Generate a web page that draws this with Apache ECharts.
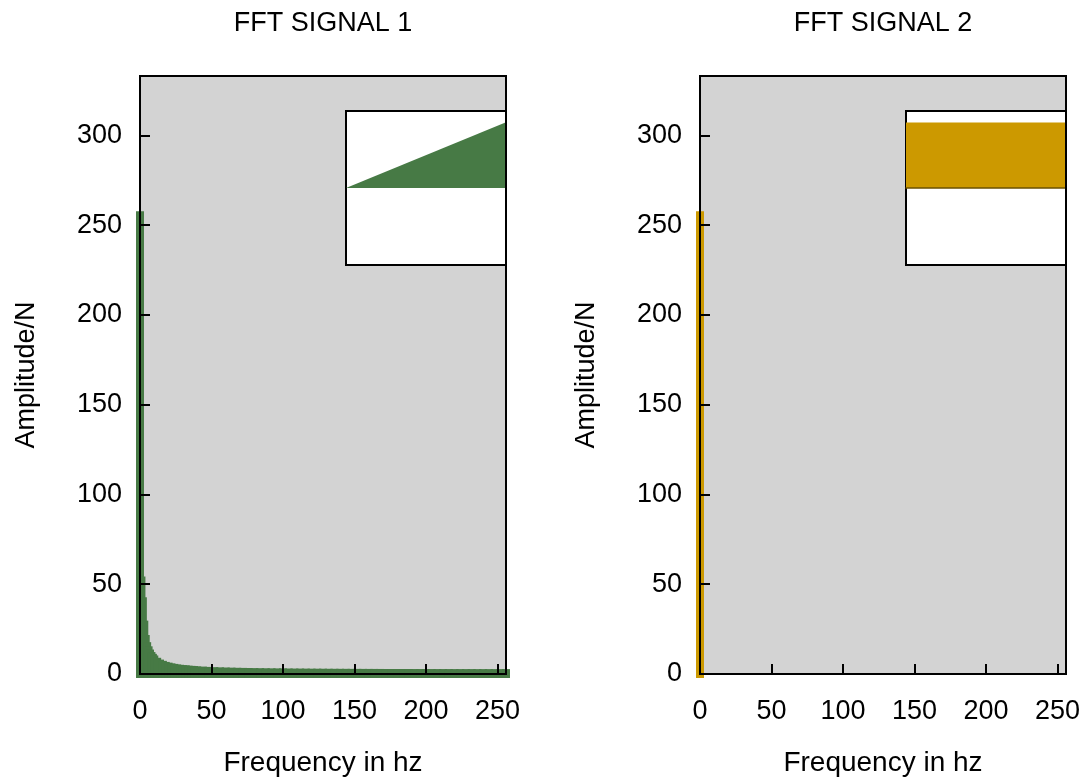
<!DOCTYPE html>
<html>
<head>
<meta charset="utf-8">
<script src="https://cdn.jsdelivr.net/npm/echarts@6/dist/echarts.min.js"></script>
<style>
html,body{margin:0;padding:0;background:#fff;}
#chart{width:1091px;height:782px;}
</style>
</head>
<body>
<div id="chart"></div>
<script>
// spectrum of signal 1 (frequency in hz, amplitude/N)
const fftFreq1 = [0,1,2,3,4,5,6,7,8,9,10,12,14,16,18,20,22,24,26,28,30,32,34,36,38,40,
	44,48,52,56,60,64,68,72,76,80,84,88,92,96,100,104,108,112,116,120,124,128,132,136,140,
	144,148,152,156,160,164,168,172,176,180,184,188,192,196,200,204,208,212,216,220,224,
	228,232,236,240,244,248,252,256];
const fftAmp1 = [255.5,52,40.5,27.5,19.5,15.5,13.2,11.4,10.0,9.0,8.1,6.8,5.8,5.1,4.5,4.1,3.7,3.4,3.1,2.9,2.7,2.6,2.4,2.3,2.2,2.0,
	1.9,1.72,1.59,1.48,1.39,1.31,1.23,1.17,1.11,1.06,1.01,0.97,0.93,0.9,0.87,0.84,0.81,0.79,0.77,0.74,0.73,0.71,0.69,0.67,0.66,
	0.65,0.63,0.62,0.61,0.6,0.59,0.58,0.57,0.57,0.56,0.55,0.55,0.54,0.54,0.53,0.53,0.52,0.52,0.52,0.51,0.51,
	0.51,0.51,0.5,0.5,0.5,0.5,0.5,0.5];

// spectrum of signal 2: only the DC term
const fftFreq2 = [0,64,128,192,256];
const fftAmp2 = [255.5,0,0,0,0];

// time signals shown in the insets
const sigTime1 = [0,256];
const sigVal1 = [0,256];
const sigTime2 = [0,256];
const sigVal2 = [255.5,255.5];

const xTicks = [0,50,100,150,200,250];
const yTicks = [0,50,100,150,200,250,300];

const titles = ['FFT SIGNAL 1','FFT SIGNAL 2'];
const green = '#477a45';
const gold = '#cc9900';
const FONT = 'Liberation Sans';

function pairs(xs,ys){
	let out=[];
	for(let i=0;i<xs.length;i++) out.push([xs[i],ys[i]]);
	return out;
}

function impulses(color){
	return function(params,api){
		let v=api.value(1);
		if(!v) return;
		let p0=api.coord([api.value(0),0]);
		let p1=api.coord([api.value(0),v]);
		return {
			type:'line',
			shape:{x1:p0[0],y1:p0[1],x2:p1[0],y2:p1[1]},
			style:{stroke:color,lineWidth:8,lineCap:'square'}
		};
	}
}

let chart = echarts.init(document.getElementById('chart'));

const mains = [{left:140},{left:700}];
let grid=[],xAxis=[],yAxis=[],series=[],title=[];

// main plots: grid 0,1
mains.forEach(function(m,i){
	grid.push({left:m.left,top:76,width:366,height:598,show:true,backgroundColor:'#d3d3d3',borderWidth:0,z:0});
	title.push({text:titles[i],left:m.left+183,top:10,textAlign:'center',padding:0,
		textStyle:{fontFamily:FONT,fontSize:27,fontWeight:'normal',color:'#000'}});
	xAxis.push({type:'value',gridIndex:i,min:0,max:256,interval:50,z:10,
		name:'Frequency in hz',nameLocation:'middle',nameGap:75,
		nameTextStyle:{fontFamily:FONT,fontSize:28,color:'#000'},
		axisLine:{show:false},
		axisTick:{inside:true,length:10,lineStyle:{color:'#000',width:2}},
		axisLabel:{margin:24,fontFamily:FONT,fontSize:27,color:'#000',
			formatter:function(v){return xTicks.indexOf(v)>=0?String(v):'';}},
		splitLine:{show:false}});
	yAxis.push({type:'value',gridIndex:i,min:0,max:333,interval:50,z:10,
		name:'Amplitude/N',nameLocation:'middle',nameGap:100,
		nameTextStyle:{fontFamily:FONT,fontSize:27,color:'#000'},
		axisLine:{show:false},
		axisTick:{show:true,inside:true,length:10,lineStyle:{color:'#000',width:2}},
		axisLabel:{margin:18,fontFamily:FONT,fontSize:27,color:'#000',
			formatter:function(v){return yTicks.indexOf(v)>=0?String(v):'';}},
		splitLine:{show:false}});
});

// insets: grid 2,3
mains.forEach(function(m,i){
	let g=grid.length;
	grid.push({left:m.left+206,top:111,width:160,height:154,show:true,backgroundColor:'#fff',borderColor:'#000',borderWidth:2,z:4});
	xAxis.push({type:'value',gridIndex:g,min:0,max:256,z:5,show:i==1,
		axisLine:{onZero:true,lineStyle:{color:'#6b5200',width:1.5}},axisTick:{show:false},axisLabel:{show:false},splitLine:{show:false}});
	yAxis.push({type:'value',gridIndex:g,min:-300,max:300,show:false,splitLine:{show:false}});
});

// frames drawn over the data: grid 4,5
mains.forEach(function(m,i){
	let g=grid.length;
	grid.push({left:m.left,top:76,width:366,height:598,show:true,backgroundColor:'transparent',borderColor:'#000',borderWidth:2,z:10});
	xAxis.push({type:'value',gridIndex:g,min:0,max:256,show:false});
	yAxis.push({type:'value',gridIndex:g,min:0,max:333,show:false});
});

// main spectra
series.push({type:'custom',xAxisIndex:0,yAxisIndex:0,z:2,clip:false,
	renderItem:impulses(green),data:pairs(fftFreq1,fftAmp1)});
series.push({type:'custom',xAxisIndex:1,yAxisIndex:1,z:2,clip:false,
	renderItem:impulses(gold),data:pairs(fftFreq2,fftAmp2)});
// inset signals
series.push({type:'line',xAxisIndex:2,yAxisIndex:2,z:5,symbol:'none',silent:true,
	lineStyle:{width:0},areaStyle:{color:green,opacity:1},data:pairs(sigTime1,sigVal1)});
series.push({type:'line',xAxisIndex:3,yAxisIndex:3,z:5,symbol:'none',silent:true,
	lineStyle:{width:0},areaStyle:{color:gold,opacity:1},data:pairs(sigTime2,sigVal2)});

chart.setOption({
	animation:false,
	backgroundColor:'#fff',
	title:title,
	grid:grid,
	xAxis:xAxis,
	yAxis:yAxis,
	series:series
});
</script>
</body>
</html>
